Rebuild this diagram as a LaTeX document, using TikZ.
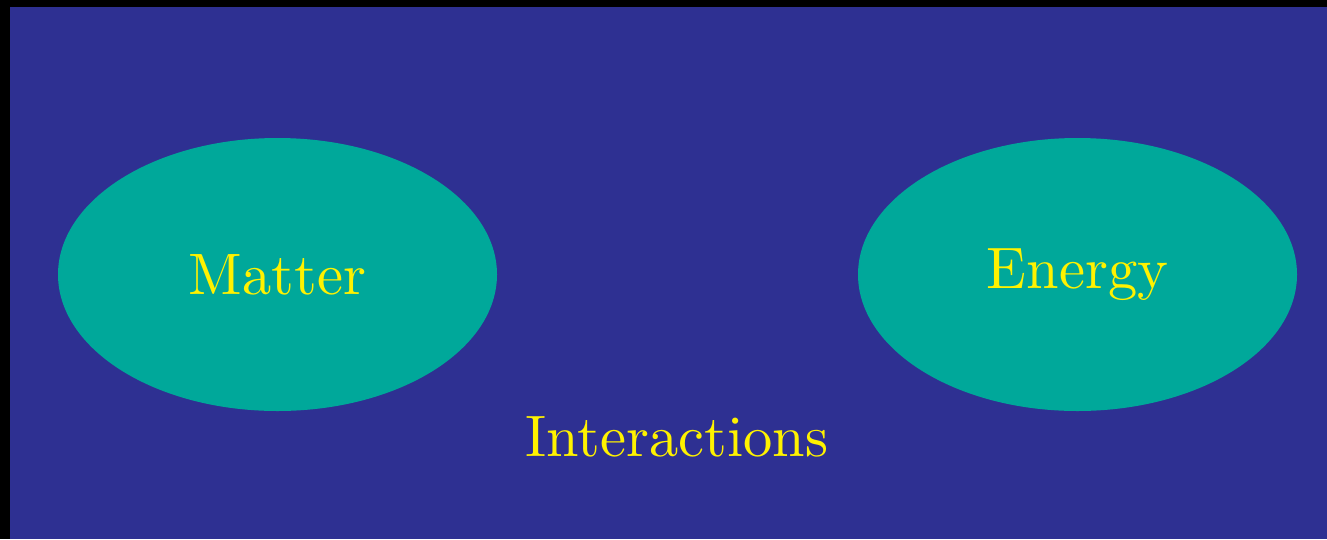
\documentclass[tikz,border=0pt]{standalone}
\usepackage{fontspec}
\usepackage{xcolor}
\usetikzlibrary{shapes.geometric}
\definecolor{deepblue}{RGB}{46,48,146}
\definecolor{tealfill}{RGB}{0,168,154}
\definecolor{brightyellow}{RGB}{255,242,0}
\newcommand{\bigword}[1]{\scalebox{5.85}{#1}}

\begin{document}
\begin{tikzpicture}[x=1pt, y=-1pt,
  blob/.style={ellipse, fill=tealfill, draw=none, inner sep=0pt,
    minimum width=439pt, minimum height=273pt,
    text=brightyellow, font=\normalsize}]
  \useasboundingbox (0,0) rectangle (1327,539);
  \fill[black] (0,0) rectangle (1327,539);
  \fill[deepblue] (10,7) rectangle (1327,539);

  \node[blob] (matter) at (277.5,274.5) {\bigword{Matter}};
  \node[blob] (energy) at (1077.5,274.5) {\bigword{Energy}};
  \node[text=brightyellow, font=\normalsize]
    (interactions) at (677,437) {\bigword{Interactions}};
\end{tikzpicture}
\end{document}
